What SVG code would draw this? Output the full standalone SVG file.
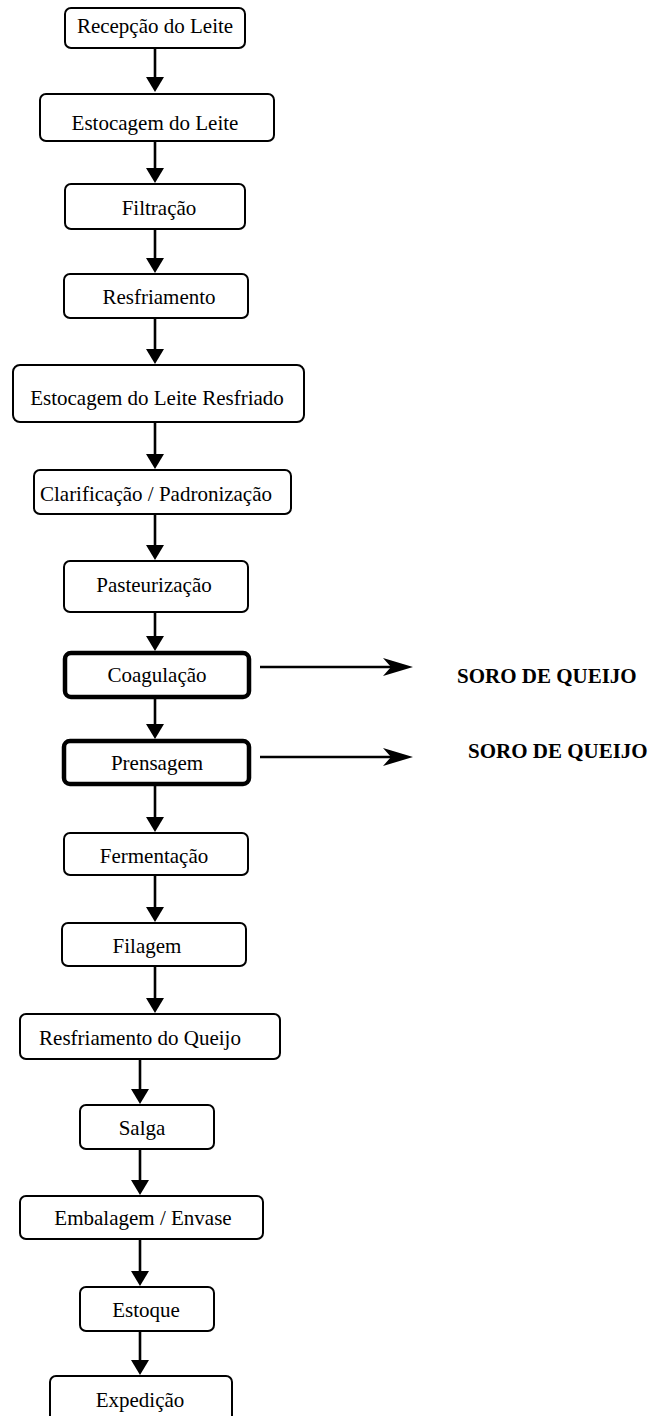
<svg xmlns="http://www.w3.org/2000/svg" width="651" height="1416" viewBox="0 0 651 1416">
<style>
.box{fill:#fff;stroke:#000;stroke-width:2}
.thick{fill:#fff;stroke:#000;stroke-width:4.5}
.t{font-family:"Liberation Serif","Times New Roman",serif;font-size:21px;fill:#000;text-anchor:middle}
.b{font-family:"Liberation Serif","Times New Roman",serif;font-size:21px;font-weight:bold;fill:#000}
.c{stroke:#000;stroke-width:2.6;fill:none}
.d{marker-end:url(#down)}
.s{marker-end:url(#side)}
</style>
<defs>
<marker id="down" markerUnits="userSpaceOnUse" markerWidth="16" markerHeight="18" viewBox="0 0 16 18" refX="0" refY="9" orient="auto">
<path d="M0,0 L15,9 L0,18 Z" fill="#000"/>
</marker>
<marker id="side" markerUnits="userSpaceOnUse" markerWidth="31" markerHeight="20" viewBox="0 0 31 20" refX="8" refY="10" orient="auto">
<path d="M0,1 L30,10 L0,19 L8,10 Z" fill="#000"/>
</marker>
</defs>
<g id="connectors">
<path class="c d" d="M155,48 V77"/>
<path class="c d" d="M155,142 V168"/>
<path class="c d" d="M155,230 V258"/>
<path class="c d" d="M155,319 V349"/>
<path class="c d" d="M155,423 V454"/>
<path class="c d" d="M155,515 V545"/>
<path class="c d" d="M155,613 V636"/>
<path class="c d" d="M155,699 V724"/>
<path class="c d" d="M155,786 V817"/>
<path class="c d" d="M155,876 V907"/>
<path class="c d" d="M155,967 V998"/>
<path class="c d" d="M140,1060 V1089"/>
<path class="c d" d="M140,1150 V1180"/>
<path class="c d" d="M140,1240 V1271"/>
<path class="c d" d="M140,1332 V1360"/>
<path class="c s" d="M260,667 H391"/>
<path class="c s" d="M260,757 H391"/>
</g>
<g id="n1"><rect class="box" x="65" y="8" width="180" height="40" rx="6"/><text class="t" x="155" y="33">Recepção do Leite</text></g>
<g id="n2"><rect class="box" x="40" y="94" width="234" height="47" rx="6"/><text class="t" x="155" y="130">Estocagem do Leite</text></g>
<g id="n3"><rect class="box" x="65" y="184" width="180" height="45" rx="6"/><text class="t" x="159" y="215">Filtração</text></g>
<g id="n4"><rect class="box" x="64" y="274" width="184" height="44" rx="6"/><text class="t" x="159" y="304">Resfriamento</text></g>
<g id="n5"><rect class="box" x="13" y="365" width="291" height="57" rx="7"/><text class="t" x="157" y="405">Estocagem do Leite Resfriado</text></g>
<g id="n6"><rect class="box" x="34" y="470" width="257" height="44" rx="6"/><text class="t" x="156" y="501">Clarificação / Padronização</text></g>
<g id="n7"><rect class="box" x="64" y="561" width="184" height="51" rx="6"/><text class="t" x="154" y="592">Pasteurização</text></g>
<g id="n8"><rect class="thick" x="65" y="653" width="184" height="44" rx="6"/><text class="t" x="157" y="682">Coagulação</text></g>
<g id="n9"><rect class="thick" x="64" y="741" width="185" height="43" rx="6"/><text class="t" x="157" y="770">Prensagem</text></g>
<g id="n10"><rect class="box" x="64" y="833" width="184" height="42" rx="6"/><text class="t" x="154" y="863">Fermentação</text></g>
<g id="n11"><rect class="box" x="62" y="923" width="184" height="43" rx="6"/><text class="t" x="147" y="953">Filagem</text></g>
<g id="n12"><rect class="box" x="20" y="1014" width="260" height="45" rx="6"/><text class="t" x="140" y="1045">Resfriamento do Queijo</text></g>
<g id="n13"><rect class="box" x="80" y="1105" width="134" height="44" rx="6"/><text class="t" x="142" y="1135">Salga</text></g>
<g id="n14"><rect class="box" x="20" y="1196" width="243" height="43" rx="6"/><text class="t" x="143" y="1225">Embalagem / Envase</text></g>
<g id="n15"><rect class="box" x="80" y="1287" width="134" height="44" rx="6"/><text class="t" x="146" y="1317">Estoque</text></g>
<g id="n16"><rect class="box" x="50" y="1376" width="182" height="60" rx="6"/><text class="t" x="140" y="1407">Expedição</text></g>
<g id="soro1"><text class="b" x="457" y="683">SORO DE QUEIJO</text></g>
<g id="soro2"><text class="b" x="468" y="758">SORO DE QUEIJO</text></g>
</svg>
